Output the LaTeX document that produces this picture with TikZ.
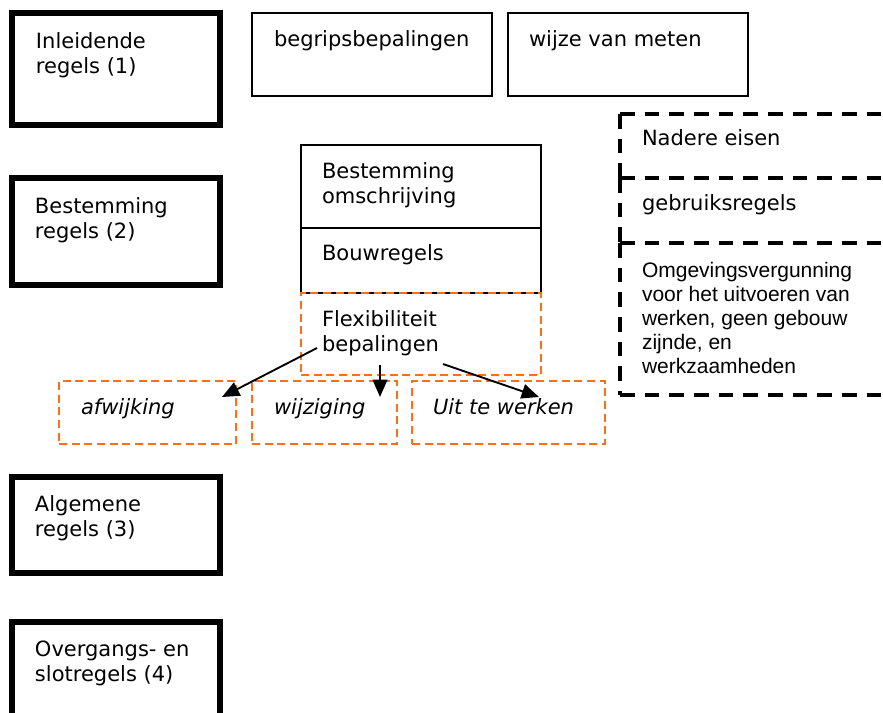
\documentclass[tikz,border=0pt]{standalone}
\usepackage{fontspec}
\setmainfont{DejaVu Sans}
\newfontfamily\arialfont{Liberation Sans}
\usetikzlibrary{positioning,calc,arrows.meta}
\definecolor{flexorange}{RGB}{255,110,20}

\begin{document}
\begin{tikzpicture}[x=0.75pt,y=-0.75pt,
    >={Triangle[length=13pt,width=11pt]},
    every node/.style={inner sep=0pt,outer sep=0pt},
    chapter/.style={draw,line width=4.5pt,minimum width=156pt,anchor=north west},
    article/.style={draw,line width=1.3pt,minimum width=180pt,anchor=north west},
    flexbox/.style={draw=flexorange,line width=1.5pt,dash pattern=on 6pt off 3.5pt,anchor=north west},
    extra/.style={minimum width=210pt,anchor=north west},
    extraline/.style={line width=3pt,dash pattern=on 11pt off 7.5pt},
    boxtext/.style={align=left,anchor=north west,font=\fontsize{15.75pt}{18.75pt}\selectfont},
    arr/.style={->,line width=1.4pt}]

  \clip (0,0) rectangle (883,713);

  % hoofdstukken
  \node[chapter,minimum height=84pt]    (inl) at (12,13)  {};
  \node[chapter,minimum height=80.25pt] (bst) at (12,178) {};
  \node[chapter,minimum height=72pt]    (alg) at (12,477) {};
  \node[chapter,minimum height=90pt]    (ovg) at (12,622) {};

  \node[boxtext,below right=15pt and 18pt of inl.north west]     {Inleidende\\regels (1)};
  \node[boxtext,below right=15pt and 17.25pt of bst.north west]  {Bestemming\\regels (2)};
  \node[boxtext,below right=14.25pt and 17.25pt of alg.north west] {Algemene\\regels (3)};
  \node[boxtext,below right=14.25pt and 17.25pt of ovg.north west] {Overgangs- en\\slotregels (4)};

  % inleidende regels
  \node[article,minimum height=62.25pt] (begrip) at (252,13) {};
  \node[article,minimum height=62.25pt] (meten)  at (508,13) {};
  \node[boxtext,below right=13.5pt and 16.5pt of begrip.north west] {begripsbepalingen};
  \node[boxtext,below right=13.5pt and 15.75pt of meten.north west] {wijze van meten};

  % bestemmingsregels
  \node[article,minimum height=62.25pt] (omschr) at (301,145) {};
  \node[article,minimum height=48.75pt] (bouw)   at (301,228) {};
  \node[flexbox,minimum width=180pt,minimum height=61.5pt] (flex) at (301,293) {};
  \node[boxtext,below right=13.5pt and 15.75pt of omschr.north west] {Bestemming\\omschrijving};
  \node[boxtext,below right=12.75pt and 15.75pt of bouw.north west]  {Bouwregels};
  \node[boxtext,below right=13.5pt and 15.75pt of flex.north west]   {Flexibiliteit\\bepalingen};

  \node[flexbox,minimum width=132.75pt,minimum height=47.25pt] (afw)  at (59,381)  {};
  \node[flexbox,minimum width=108.75pt,minimum height=47.25pt] (wijz) at (252,381) {};
  \node[flexbox,minimum width=144.75pt,minimum height=47.25pt] (uit)  at (412,381) {};
  \node[boxtext,font=\fontsize{15.75pt}{18.75pt}\selectfont\itshape,below right=13.5pt and 16.5pt of afw.north west]  {afwijking};
  \node[boxtext,font=\fontsize{15.75pt}{18.75pt}\selectfont\itshape,below right=13.5pt and 16.5pt of wijz.north west] {wijziging};
  \node[boxtext,font=\fontsize{15.75pt}{18.75pt}\selectfont\itshape,below right=13.5pt and 15.75pt of uit.north west]  {Uit te werken};

  \draw[arr] ($(flex.south west)+(16,-27)$) -- ($(afw.north east)+(-14,16)$);
  \draw[arr] ($(flex.south)+(-41,-10)$)     -- ($(wijz.north east)+(-17,16)$);
  \draw[arr] ($(flex.south)+(22,-11)$)      -- ($(uit.north)+(30.5,16)$);

  % overige regels
  \node[extra,minimum height=48pt]    (nadere) at (620,114) {};
  \node[extra,minimum height=48.75pt] (gebr)   at (620,178) {};
  \node[extra,minimum height=114pt]   (omgev)  at (620,243) {};
  \foreach \b in {nadere,gebr,omgev} {
    \draw[extraline] (\b.north west) -- (\b.north east);
    \draw[extraline] (\b.north west) -- (\b.south west);
  }
  \draw[extraline] (omgev.south west) -- (omgev.south east);

  \node[boxtext,below right=12pt and 16.5pt of nadere.north west] {Nadere eisen};
  \node[boxtext,below right=12.75pt and 16.5pt of gebr.north west] {gebruiksregels};
  \node[boxtext,font=\arialfont\fontsize{15.75pt}{18pt}\selectfont,below right=14.25pt and 16.5pt of omgev.north west]
    {Omgevingsvergunning\\voor het uitvoeren van\\werken, geen gebouw\\zijnde, en\\werkzaamheden};
\end{tikzpicture}
\end{document}
